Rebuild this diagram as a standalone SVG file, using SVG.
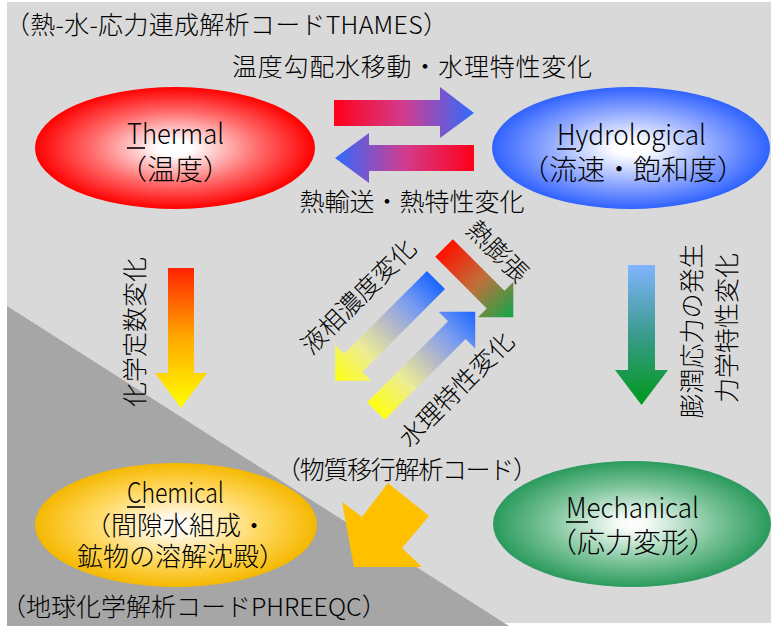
<svg xmlns="http://www.w3.org/2000/svg" width="771" height="626" viewBox="0 0 771 626">
<defs>
<style>
text{font-family:"Noto Sans CJK JP","Noto Sans",sans-serif;font-weight:300;fill:#000;}
.t28{font-size:28px;}
.t26{font-size:26px;}
.t25{font-size:25px;}
.mid{text-anchor:middle;}
.c{dominant-baseline:central;text-anchor:middle;}
.ul{stroke:#000;stroke-width:1.6;}
</style>
<radialGradient id="gRed" cx="0.5" cy="0.5" r="0.5"><stop offset="0" stop-color="#ffffff"/><stop offset="0.12" stop-color="#ffffff"/><stop offset="0.6" stop-color="#ff6a6a"/><stop offset="1" stop-color="#ff0000"/></radialGradient>
<radialGradient id="gBlue" cx="0.5" cy="0.5" r="0.5"><stop offset="0" stop-color="#ffffff"/><stop offset="0.12" stop-color="#ffffff"/><stop offset="0.6" stop-color="#8fa8ff"/><stop offset="1" stop-color="#2f62ff"/></radialGradient>
<radialGradient id="gGold" cx="0.5" cy="0.5" r="0.5"><stop offset="0" stop-color="#ffffff"/><stop offset="0.12" stop-color="#fffaf0"/><stop offset="0.6" stop-color="#ffd860"/><stop offset="1" stop-color="#f5b800"/></radialGradient>
<radialGradient id="gGreen" cx="0.5" cy="0.5" r="0.5"><stop offset="0" stop-color="#ffffff"/><stop offset="0.12" stop-color="#f4faf6"/><stop offset="0.6" stop-color="#7cc49a"/><stop offset="1" stop-color="#2a9a5c"/></radialGradient>
<linearGradient id="gRB" x1="0" y1="0" x2="1" y2="0"><stop offset="0" stop-color="#ff0018"/><stop offset="0.5" stop-color="#d23c8e"/><stop offset="1" stop-color="#2f6bff"/></linearGradient>
<linearGradient id="gBR" x1="0" y1="0" x2="1" y2="0"><stop offset="0" stop-color="#2f6bff"/><stop offset="0.5" stop-color="#d23c8e"/><stop offset="1" stop-color="#ff0018"/></linearGradient>
<linearGradient id="gRY" x1="0" y1="0" x2="0" y2="1"><stop offset="0" stop-color="#ff2200"/><stop offset="0.5" stop-color="#ffaa00"/><stop offset="1" stop-color="#ffff00"/></linearGradient>
<linearGradient id="gBG" x1="0" y1="0" x2="0" y2="1"><stop offset="0" stop-color="#80b4ff"/><stop offset="0.5" stop-color="#3a9a8c"/><stop offset="1" stop-color="#00991a"/></linearGradient>
<linearGradient id="gRG" x1="0" y1="0" x2="1" y2="0"><stop offset="0" stop-color="#ff1000"/><stop offset="0.5" stop-color="#c0703c"/><stop offset="1" stop-color="#10a848"/></linearGradient>
<linearGradient id="gBY" x1="0" y1="0" x2="1" y2="0"><stop offset="0" stop-color="#1a66ff"/><stop offset="0.25" stop-color="#7a9cf0"/><stop offset="0.45" stop-color="#b6bac6"/><stop offset="0.7" stop-color="#ecec96"/><stop offset="1" stop-color="#ffff10"/></linearGradient>
<linearGradient id="gYB" x1="0" y1="0" x2="1" y2="0"><stop offset="0" stop-color="#ffff10"/><stop offset="0.3" stop-color="#ecec96"/><stop offset="0.55" stop-color="#b6bac6"/><stop offset="0.75" stop-color="#7a9cf0"/><stop offset="1" stop-color="#1a66ff"/></linearGradient>
</defs>

<g id="background">
<rect x="7" y="2" width="764" height="621" fill="#d9d9d9"/>
<polygon points="7,306 509,626 7,626" fill="#a6a6a6"/>
</g>

<g id="code-labels">
<text class="t25" x="5" y="34" textLength="443" lengthAdjust="spacing">（熱-水-応力連成解析コードTHAMES）</text>
<text class="t25" x="1" y="616">（地球化学解析コードPHREEQC）</text>
</g>

<g id="thermal">
<ellipse cx="175" cy="148" rx="140" ry="61" fill="url(#gRed)"/>
<text class="t28" x="127" y="144" textLength="97" lengthAdjust="spacingAndGlyphs">Thermal</text>
<line class="ul" x1="127" y1="148" x2="145" y2="148"/>
<text class="t28 mid" x="175" y="180">（温度）</text>
</g>

<g id="hydrological">
<ellipse cx="631" cy="148" rx="139" ry="61" fill="url(#gBlue)"/>
<text class="t28" x="557" y="145" textLength="149" lengthAdjust="spacingAndGlyphs">Hydrological</text>
<line class="ul" x1="557" y1="149" x2="576" y2="149"/>
<text class="t28 mid" x="633" y="180">（流速・飽和度）</text>
</g>

<g id="chemical">
<ellipse cx="176" cy="525" rx="141" ry="62" fill="url(#gGold)"/>
<text class="t28" x="127" y="503" textLength="97" lengthAdjust="spacingAndGlyphs">Chemical</text>
<line class="ul" x1="127" y1="507" x2="145" y2="507"/>
<text class="t26" x="85" y="535">（間隙水組成・</text>
<text class="t26" x="77" y="566">鉱物の溶解沈殿）</text>
</g>

<g id="mechanical">
<ellipse cx="632" cy="524" rx="139" ry="63" fill="url(#gGreen)"/>
<text class="t28" x="566" y="518" textLength="133" lengthAdjust="spacingAndGlyphs">Mechanical</text>
<line class="ul" x1="566" y1="522" x2="588" y2="522"/>
<text class="t28 mid" x="633" y="553">（応力変形）</text>
</g>

<g id="connectors">
<path d="M334,100 H440 V87 L474,113 L440,138 V126 H334 Z" fill="url(#gRB)"/>
<path d="M474,145 H369 V133 L335,158 L369,183 V171 H474 Z" fill="url(#gBR)"/>
<text class="t25 mid" x="412" y="76" textLength="360" lengthAdjust="spacing">温度勾配水移動・水理特性変化</text>
<text class="t25 mid" x="412" y="211">熱輸送・熱特性変化</text>

<path d="M168,268 V373 H155 L181,408 L207,373 H194 V268 Z" fill="url(#gRY)"/>
<text class="t25 c" transform="translate(133,332) rotate(-90)">化学定数変化</text>

<path d="M628,265 V370 H615 L641.5,405 L668,370 H655 V265 Z" fill="url(#gBG)"/>
<text class="t25 c" transform="translate(690,331) rotate(-90)">膨潤応力の発生</text>
<text class="t25 c" transform="translate(725,328) rotate(-90)">力学特性変化</text>

<path transform="translate(444,248) rotate(45)" d="M0,-12.5 H73 V-25 L98,0 L73,25 V12.5 H0 Z" fill="url(#gRG)"/>
<text class="t25 c" transform="translate(499,250) rotate(45)">熱膨張</text>

<path transform="translate(436,280) rotate(135)" d="M0,-12.8 H117 V-25.6 L142.6,0 L117,25.6 V12.8 H0 Z" fill="url(#gBY)"/>
<text class="t25 c" transform="translate(357,295) rotate(-45)">液相濃度変化</text>

<path transform="translate(376,411) rotate(-45)" d="M0,-12.4 H114.4 V-25.9 L140.3,0 L114.4,25.9 V12.4 H0 Z" fill="url(#gYB)"/>
<text class="t25 c" transform="translate(455,388) rotate(-45)">水理特性変化</text>

<polygon points="388,483 429,516 402,548 422,567 354,567 342,502 362,517" fill="#ffc000"/>
<text class="t25 mid" x="407" y="479" textLength="262" lengthAdjust="spacing">（物質移行解析コード）</text>
</g>
</svg>
